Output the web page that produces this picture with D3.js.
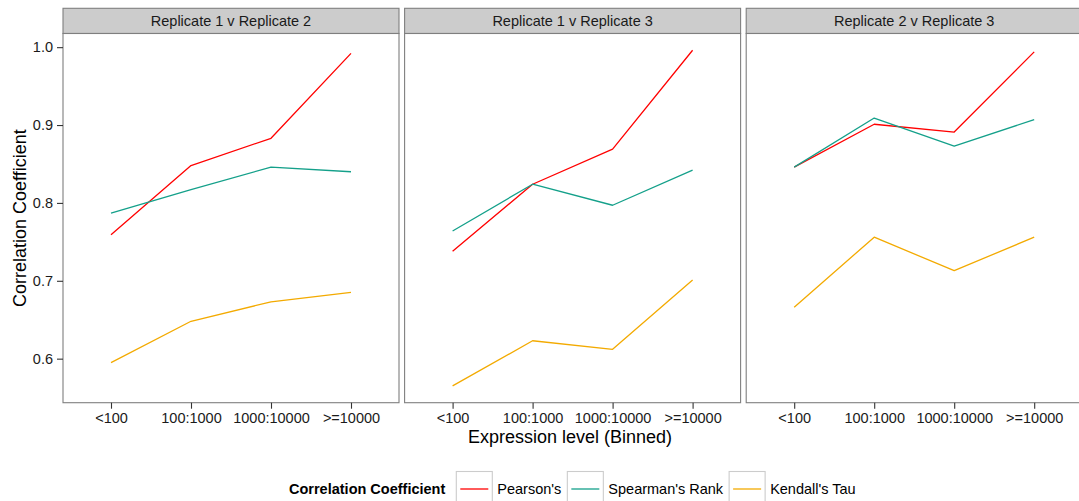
<!DOCTYPE html>
<html>
<head>
<meta charset="utf-8">
<script src="https://cdn.jsdelivr.net/npm/d3@7"></script>
<style>
  html, body { margin: 0; padding: 0; background: #fff; }
  svg { display: block; font-family: "Liberation Sans", Arial, Helvetica, sans-serif; }
</style>
</head>
<body>
<svg id="chart" width="1079" height="501"></svg>
<script>
// Expression bins (x categories)
const bins = ["<100", "100:1000", "1000:10000", ">=10000"];
// Facet panels
const panels = ["Replicate 1 v Replicate 2", "Replicate 1 v Replicate 3", "Replicate 2 v Replicate 3"];
// Coefficient types (legend order)
const methods = ["Pearson's", "Spearman's Rank", "Kendall's Tau"];
const methodColors = ["#FF0000", "#14A08A", "#F3AA00"];

// Correlation values per panel, one array per coefficient
const pearson = [
  [0.759, 0.848, 0.883, 0.992],
  [0.738, 0.824, 0.869, 0.996],
  [0.846, 0.901, 0.891, 0.994]
];
const spearman = [
  [0.787, 0.817, 0.846, 0.840],
  [0.764, 0.824, 0.797, 0.842],
  [0.846, 0.909, 0.873, 0.907]
];
const kendall = [
  [0.595, 0.648, 0.673, 0.685],
  [0.565, 0.623, 0.612, 0.701],
  [0.666, 0.756, 0.713, 0.756]
];
const yTicks = [0.6, 0.7, 0.8, 0.9, 1.0];

const seriesByMethod = [pearson, spearman, kendall];

const svg = d3.select("#chart");

const plotLeft = 63, panelW = 336, gap = 5.6;
const stripTop = 8.3, plotTop = 33.5, plotBottom = 402.7;

// continuous y with 5% expansion around the data range
const allVals = seriesByMethod.flat(2);
const [vmin, vmax] = d3.extent(allVals);
const pad = (vmax - vmin) * 0.05;
const y = d3.scaleLinear().domain([vmin - pad, vmax + pad]).range([plotBottom, plotTop]);

const line = (x) => d3.line().x((d, i) => x(bins[i])).y(d => y(d));

panels.forEach((name, p) => {
  const left = plotLeft + p * (panelW + gap);
  const x = d3.scalePoint().domain(bins).range([left, left + panelW]).padding(0.6);
  const g = svg.append("g");

  // strip
  g.append("rect")
    .attr("x", left).attr("y", stripTop)
    .attr("width", panelW).attr("height", plotTop - stripTop)
    .attr("fill", "#CCCCCC").attr("stroke", "#7F7F7F").attr("stroke-width", 1.1);
  g.append("text")
    .attr("x", left + panelW / 2).attr("y", (stripTop + plotTop) / 2)
    .attr("dy", "0.35em").attr("text-anchor", "middle")
    .attr("font-size", 14.5).attr("fill", "#1A1A1A")
    .text(name);

  // panel background
  g.append("rect")
    .attr("x", left).attr("y", plotTop)
    .attr("width", panelW).attr("height", plotBottom - plotTop)
    .attr("fill", "#fff");

  // series lines
  seriesByMethod.forEach((series, m) => {
    g.append("path")
      .datum(series[p])
      .attr("d", line(x))
      .attr("fill", "none")
      .attr("stroke", methodColors[m])
      .attr("stroke-width", 1.3)
      .attr("stroke-linejoin", "round");
  });

  // panel border
  g.append("rect")
    .attr("x", left).attr("y", plotTop)
    .attr("width", panelW).attr("height", plotBottom - plotTop)
    .attr("fill", "none").attr("stroke", "#7F7F7F").attr("stroke-width", 1.1);

  // x axis
  const xAxis = d3.axisBottom(x).tickSize(6).tickPadding(4);
  const xg = g.append("g").attr("transform", `translate(0,${plotBottom})`).call(xAxis);
  xg.select(".domain").remove();
  xg.selectAll(".tick line").attr("stroke", "#333").attr("stroke-width", 1.1);
  xg.selectAll(".tick text").attr("font-size", 14.5).attr("fill", "#1A1A1A")
    .attr("font-family", "Liberation Sans, Arial, sans-serif");

  // y axis only on the first panel
  if (p === 0) {
    const yAxis = d3.axisLeft(y).tickValues(yTicks).tickFormat(d3.format(".1f")).tickSize(6).tickPadding(4);
    const yg = g.append("g").attr("transform", `translate(${left},0)`).call(yAxis);
    yg.select(".domain").remove();
    yg.selectAll(".tick line").attr("stroke", "#333").attr("stroke-width", 1.1);
    yg.selectAll(".tick text").attr("font-size", 14.5).attr("fill", "#1A1A1A")
      .attr("font-family", "Liberation Sans, Arial, sans-serif");
  }
});

// axis titles
svg.append("text")
  .attr("x", (plotLeft + 1077) / 2).attr("y", 437).attr("dy", "0.35em")
  .attr("text-anchor", "middle").attr("font-size", 18).attr("fill", "#000")
  .text("Expression level (Binned)");
svg.append("text")
  .attr("transform", `translate(20,${(plotTop + plotBottom) / 2}) rotate(-90)`)
  .attr("dy", "0.35em").attr("text-anchor", "middle")
  .attr("font-size", 18).attr("fill", "#000")
  .text("Correlation Coefficient");

// legend
const legendY = 489;
const legend = svg.append("g");
const title = legend.append("text")
  .attr("x", 289).attr("y", legendY).attr("dy", "0.35em")
  .attr("font-size", 14.5).attr("font-weight", "bold").attr("fill", "#000")
  .text("Correlation Coefficient");
let cursor = 289 + title.node().getComputedTextLength() + 11;
methods.forEach((m, i) => {
  const keyW = 36;
  legend.append("rect")
    .attr("x", cursor).attr("y", 471.5)
    .attr("width", keyW).attr("height", 36)
    .attr("fill", "#fff").attr("stroke", "#CCCCCC").attr("stroke-width", 1.1);
  legend.append("line")
    .attr("x1", cursor + 4).attr("x2", cursor + keyW - 4)
    .attr("y1", legendY).attr("y2", legendY)
    .attr("stroke", methodColors[i]).attr("stroke-width", 1.3);
  const t = legend.append("text")
    .attr("x", cursor + keyW + 5).attr("y", legendY).attr("dy", "0.35em")
    .attr("font-size", 14.5).attr("fill", "#000")
    .text(m);
  cursor += keyW + 5 + t.node().getComputedTextLength() + 6;
});
</script>
</body>
</html>
